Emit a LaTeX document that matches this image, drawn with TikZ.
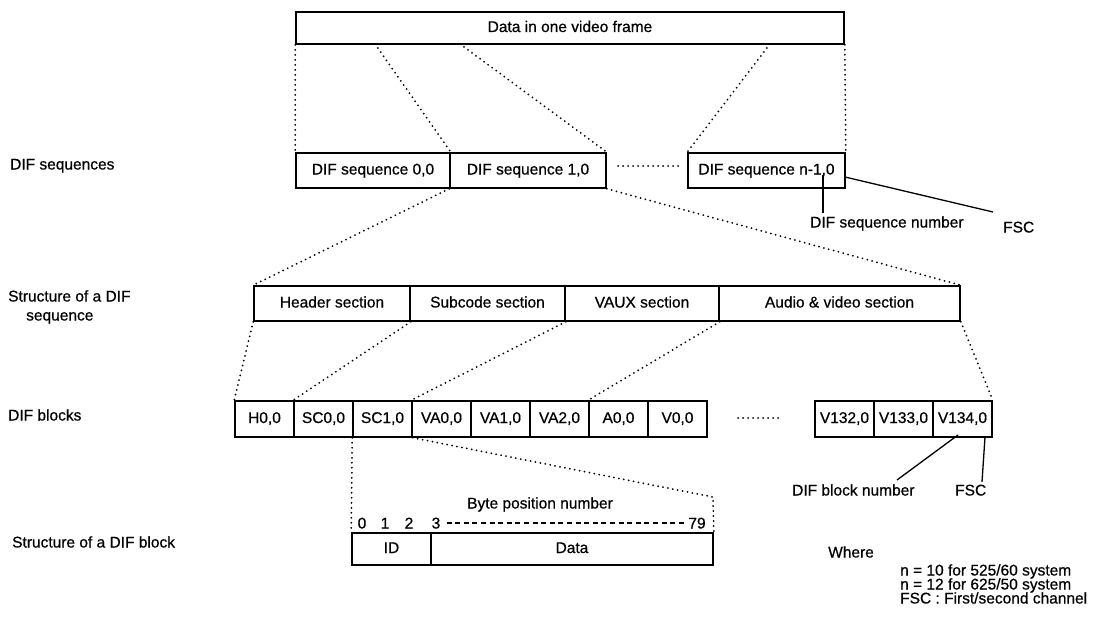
\documentclass[tikz,border=0pt]{standalone}
\usepackage{fontspec}
\setmainfont{Liberation Sans}[FakeBold=0.6]
\usetikzlibrary{calc}
\newcommand\dgfont{\fontsize{15.5}{18}\selectfont}
\begin{document}
\begin{tikzpicture}[x=1pt,y=-1pt,
  box/.style={draw, line width=1.6pt, rectangle, inner sep=0pt, font=\dgfont, text height=11pt, text depth=3pt},
  blk/.style={box, minimum width=59pt, minimum height=36pt},
  sec/.style={box, minimum height=35pt},
  dl/.style={line width=2pt, dash pattern=on 0pt off 5pt, line cap=round},
  sl/.style={line width=1.3pt},
  lbl/.style={font=\dgfont, inner sep=0pt, anchor=base west},
  clbl/.style={font=\dgfont, inner sep=0pt, anchor=base}]
\useasboundingbox (0,0) rectangle (1104,618);

% top frame
\node[box, minimum width=548pt, minimum height=32pt] (top) at (570,28) {Data in one video frame};

% DIF sequences
\node[sec, minimum width=154pt] (s0) at (373,170.5) {DIF sequence 0,0};
\node[sec, minimum width=156pt] (s1) at (528,170.5) {DIF sequence 1,0};
\node[sec, minimum width=157pt] (sn) at (766.5,170.5) {DIF sequence n-1,0};

% sections
\node[sec, minimum width=156pt] (hdr) at (332,303.5) {Header section};
\node[sec, minimum width=155pt] (sub) at (487.5,303.5) {Subcode section};
\node[sec, minimum width=154pt] (vaux) at (642,303.5) {VAUX section};
\node[sec, minimum width=241pt] (av) at (839.5,303.5) {Audio \& video section};

% DIF blocks
\node[blk] (h0) at (264.5,419) {H0,0};
\node[blk] (sc0) at (323.5,419) {SC0,0};
\node[blk] (sc1) at (382.5,419) {SC1,0};
\node[blk] (va0) at (441.5,419) {VA0,0};
\node[blk] (va1) at (500.5,419) {VA1,0};
\node[blk] (va2) at (559.5,419) {VA2,0};
\node[blk] (a0) at (618.5,419) {A0,0};
\node[blk] (v0) at (677.5,419) {V0,0};
\node[blk] (v132) at (844.5,419) {V132,0};
\node[blk] (v133) at (903.5,419) {V133,0};
\node[blk] (v134) at (962.5,419) {V134,0};

% DIF block structure
\node[box, minimum width=79pt, minimum height=32pt] (id) at (391.5,549) {ID};
\node[box, minimum width=282pt, minimum height=32pt] (data) at (572,549) {Data};
\node[clbl] (bpn) at (540,508.5) {Byte position number};
\node[clbl] (b0) at (362,528.5) {0};
\node[clbl] (b1) at (385,528.5) {1};
\node[clbl] (b2) at (409,528.5) {2};
\node[clbl] (b3) at (436,528.5) {3};
\node[clbl] (b79) at (697,528.5) {79};
\draw[line width=1.2pt, dash pattern=on 5pt off 3.6pt] ([xshift=6pt]b3.east |- 0,523) -- ([xshift=-3pt]b79.west |- 0,523);

% left labels
\node[lbl] (lseq) at (10,169.5) {DIF sequences};
\node[lbl] (lstr1) at (8,301.5) {Structure of a DIF};
\node[lbl] (lstr2) at (26,320.5) {sequence};
\node[lbl] (lblk) at (8,420.5) {DIF blocks};
\node[lbl] (lbs) at (12,547.5) {Structure of a DIF block};

% annotations
\node[lbl] (seqnum) at (810,227.5) {DIF sequence number};
\node[lbl] (fsc1) at (1003,232.5) {FSC};
\node[lbl] (blknum) at (792,495.5) {DIF block number};
\node[lbl] (fsc2) at (955,495.5) {FSC};

% where
\node[lbl] (where) at (828,557.5) {Where};
\node[lbl] (w1) at (900,575.5) {n = 10 for 525/60 system};
\node[lbl] (w2) at (900,589.5) {n = 12 for 625/50 system};
\node[lbl] (w3) at (900,603.5) {FSC : First/second channel};

% coordinates
\coordinate (t1) at (375,44);
\coordinate (t2) at (460,44);
\coordinate (t3) at (770,44);
\coordinate (g1) at (618,166);
\coordinate (g2) at (680,166);
\coordinate (g3) at (738,418);
\coordinate (g4) at (780,418);
\coordinate (br) at (713,497);
\coordinate (snp) at (823,175);
\coordinate (snq) at (823,213);
\coordinate (snf) at (845,177);
\coordinate (snfe) at (993,212);
\coordinate (bnp) at (958,435);
\coordinate (bnq) at (897,480);
\coordinate (bfp) at (985,437);
\coordinate (bfq) at (982,482);

% dotted connectors
\draw[dl] (top.south west) -- (s0.north west);
\draw[dl] (t1) -- (s0.north east);
\draw[dl] (t2) -- (s1.north east);
\draw[dl] (t3) -- (sn.north west);
\draw[dl] (top.south east) -- (sn.north east);
\draw[dl] (g1) -- (g2);
\draw[dl] (s1.south west) -- (hdr.north west);
\draw[dl] (s1.south east) -- (av.north east);
\draw[dl] (hdr.south west) -- (h0.north west);
\draw[dl] (hdr.south east) -- (sc0.north west);
\draw[dl] (sub.south east) -- (va0.north west);
\draw[dl] (vaux.south east) -- (a0.north west);
\draw[dl] (av.south east) -- (v134.north east);
\draw[dl] (g3) -- (g4);
\draw[dl] (sc1.south west) -- (id.north west);
\draw[dl] (sc1.south east) -- (br) -- (data.north east);

% solid leaders
\draw[sl] (snp) -- (snq);
\draw[sl] (snf) -- (snfe);
\draw[sl] (bnp) -- (bnq);
\draw[sl] (bfp) -- (bfq);
\end{tikzpicture}
\end{document}
